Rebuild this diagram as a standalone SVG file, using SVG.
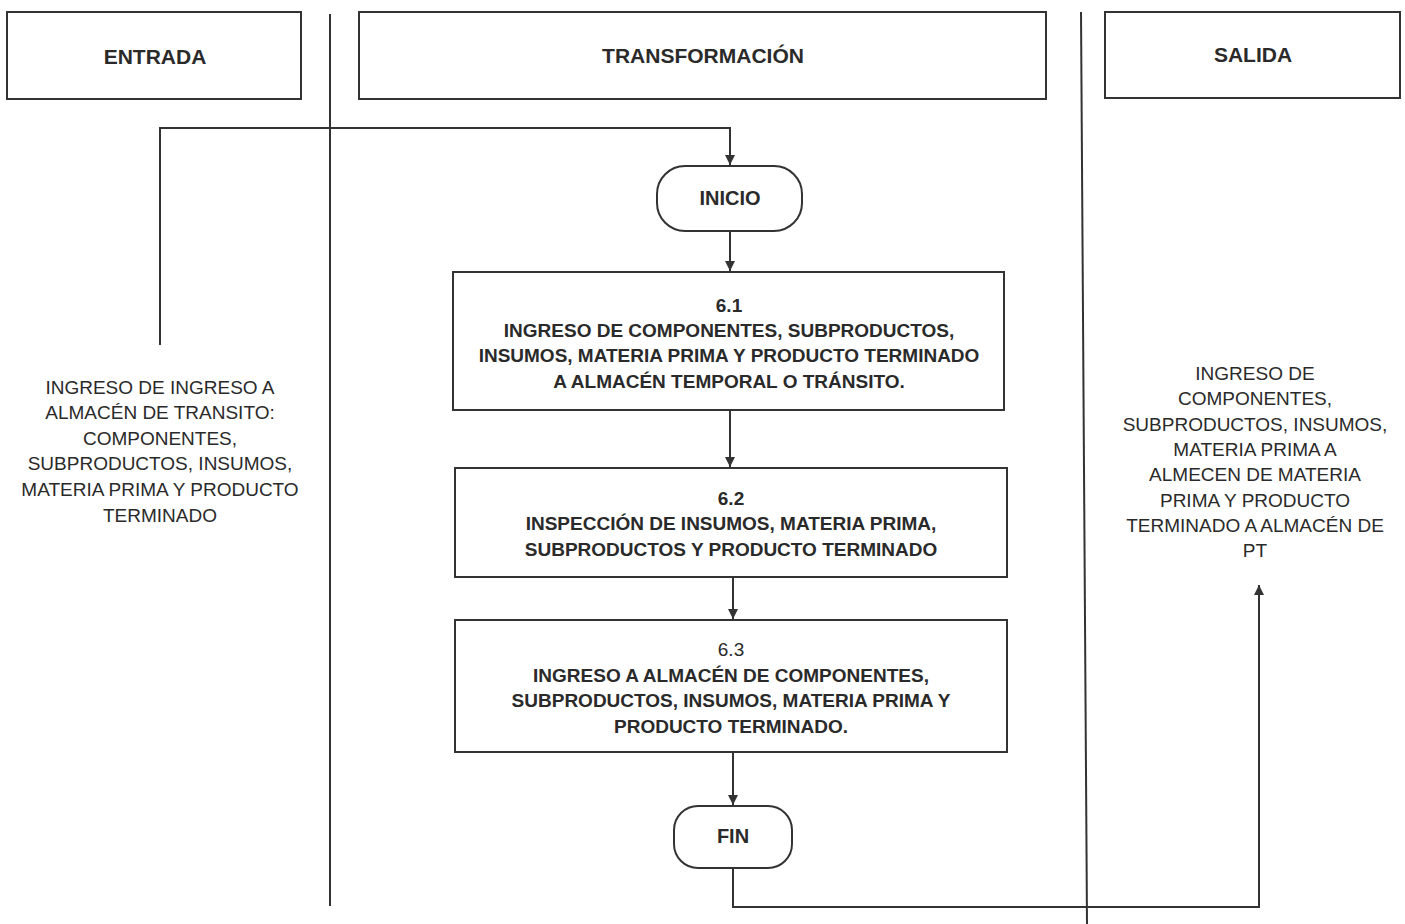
<svg xmlns="http://www.w3.org/2000/svg" width="1405" height="924" viewBox="0 0 1405 924">
<style>
.box{fill:#fff;stroke:#333;stroke-width:2}
.lane{stroke:#333;stroke-width:2;fill:none}
.conn{stroke:#333;stroke-width:2;fill:none}
.h{font-family:"Liberation Sans",Arial,sans-serif;font-weight:bold;font-size:21px;fill:#2a2a2a;text-anchor:middle}
.t{font-family:"Liberation Sans",Arial,sans-serif;font-weight:bold;font-size:20px;fill:#2a2a2a;text-anchor:middle}
.b{font-family:"Liberation Sans",Arial,sans-serif;font-weight:bold;font-size:19px;fill:#2a2a2a;text-anchor:middle}
.r{font-family:"Liberation Sans",Arial,sans-serif;font-size:19px;fill:#2a2a2a;text-anchor:middle}
.n{font-family:"Liberation Sans",Arial,sans-serif;font-size:19px;fill:#2a2a2a;text-anchor:middle}
</style>
<defs>
<marker id="arr" viewBox="0 0 10 10" refX="10" refY="5" markerWidth="10" markerHeight="10" markerUnits="userSpaceOnUse" orient="auto">
<path d="M0,0 L10,5 L0,10 Z" fill="#333"/>
</marker>
</defs>
<rect width="1405" height="924" fill="#fff"/>
<g id="lanes">
<line class="lane" x1="330" y1="14" x2="330" y2="906"/>
<line class="lane" x1="1081" y1="12" x2="1087" y2="924"/>
</g>
<g id="entrada-header"><rect class="box" x="7" y="12" width="294" height="87"/><text class="h" x="155" y="64">ENTRADA</text></g>
<g id="transformacion-header"><rect class="box" x="359" y="12" width="687" height="87"/><text class="h" x="703" y="63">TRANSFORMACIÓN</text></g>
<g id="salida-header"><rect class="box" x="1105" y="12" width="295" height="86"/><text class="h" x="1253" y="62">SALIDA</text></g>
<g id="connectors">
<polyline class="conn" points="160,345 160,128 730,128 730,165" marker-end="url(#arr)"/>
<line class="conn" x1="730" y1="231" x2="730" y2="271" marker-end="url(#arr)"/>
<line class="conn" x1="730" y1="410" x2="730" y2="467" marker-end="url(#arr)"/>
<line class="conn" x1="733" y1="577" x2="733" y2="619" marker-end="url(#arr)"/>
<line class="conn" x1="733" y1="752" x2="733" y2="805" marker-end="url(#arr)"/>
<polyline class="conn" points="733,868 733,907 1259,907 1259,585" marker-end="url(#arr)"/>
</g>
<g id="entrada-text">
<text class="r" x="160" y="394">INGRESO DE INGRESO A</text>
<text class="r" x="160" y="419">ALMACÉN DE TRANSITO:</text>
<text class="r" x="160" y="445">COMPONENTES,</text>
<text class="r" x="160" y="470">SUBPRODUCTOS, INSUMOS,</text>
<text class="r" x="160" y="496">MATERIA PRIMA Y PRODUCTO</text>
<text class="r" x="160" y="522">TERMINADO</text>
</g>
<g id="inicio"><rect class="box" x="657" y="166" width="145" height="65" rx="28" ry="28"/><text class="t" x="730" y="205">INICIO</text></g>
<g id="n61"><rect class="box" x="453" y="272" width="551" height="138"/>
<text class="b" x="729" y="312">6.1</text>
<text class="b" x="729" y="337">INGRESO DE COMPONENTES, SUBPRODUCTOS,</text>
<text class="b" x="729" y="362">INSUMOS, MATERIA PRIMA Y PRODUCTO TERMINADO</text>
<text class="b" x="729" y="388">A ALMACÉN TEMPORAL O TRÁNSITO.</text>
</g>
<g id="n62"><rect class="box" x="455" y="468" width="552" height="109"/>
<text class="b" x="731" y="505">6.2</text>
<text class="b" x="731" y="530">INSPECCIÓN DE INSUMOS, MATERIA PRIMA,</text>
<text class="b" x="731" y="556">SUBPRODUCTOS Y PRODUCTO TERMINADO</text>
</g>
<g id="n63"><rect class="box" x="455" y="620" width="552" height="132"/>
<text class="n" x="731" y="656">6.3</text>
<text class="b" x="731" y="682">INGRESO A ALMACÉN DE COMPONENTES,</text>
<text class="b" x="731" y="707">SUBPRODUCTOS, INSUMOS, MATERIA PRIMA Y</text>
<text class="b" x="731" y="733">PRODUCTO TERMINADO.</text>
</g>
<g id="fin"><rect class="box" x="674" y="806" width="118" height="62" rx="24" ry="24"/><text class="t" x="733" y="843">FIN</text></g>
<g id="salida-text">
<text class="r" x="1255" y="380">INGRESO DE</text>
<text class="r" x="1255" y="405">COMPONENTES,</text>
<text class="r" x="1255" y="431">SUBPRODUCTOS, INSUMOS,</text>
<text class="r" x="1255" y="456">MATERIA PRIMA  A</text>
<text class="r" x="1255" y="481">ALMECEN DE MATERIA</text>
<text class="r" x="1255" y="507">PRIMA Y PRODUCTO</text>
<text class="r" x="1255" y="532">TERMINADO  A ALMACÉN DE</text>
<text class="r" x="1255" y="557">PT</text>
</g>
</svg>
